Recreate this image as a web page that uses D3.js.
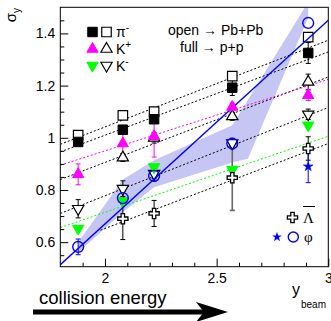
<!DOCTYPE html>
<html lang="en">
<head>
    <meta charset="UTF-8">
    <title>sigma_y vs y_beam</title>
    <script src="https://d3js.org/d3.v7.min.js"></script>
    <style>
        body {margin: 0; background: white;}
        text {font-family: "Liberation Sans", Arial, sans-serif;}
    </style>
</head>
<body>
<script>
    const width = 331;
    const height = 321;

    // beam rapidity of the five energies
    const yBeam = [1.88, 2.08, 2.22, 2.57, 2.91];

    // open = Pb+Pb, full = p+p
    const piPbPb     = [1.010, 1.086, 1.100, 1.236, 1.386];
    const piPP       = [0.984, 1.031, 1.071, 1.192, 1.325];
    const piPPErr    = [0.015, 0.015, 0.015, 0.030, 0.040];
    const kpPbPb     = [null, 0.924, 1.000, 1.082, 1.214];
    const kpPbPbErr  = [0, 0.015, 0.020, 0.015, 0.030];
    const kpPP       = [0.860, 0.978, 1.006, 1.118, 1.163];
    const kpPPErr    = [0.040, 0.060, 0.080, 0.015, 0.020];
    const kmPbPb     = [0.728, 0.805, 0.863, 0.980, 1.090];
    const kmPbPbErr  = [0.035, 0.030, 0.020, 0.015, 0.020];
    const kmPP       = [0.652, 0.758, 0.888, 0.878, 1.048];
    const lamPbPb    = [null, 0.690, 0.710, 0.847, 0.959];
    const lamPbPbErr = [0, 0.080, 0.050, 0.125, 0.045];
    const phiPbPb    = [0.582, 0.769, 0.854, 0.978, 1.440];
    const phiPbPbErr = [0.030, 0.025, 0.020, 0.020, 0];
    const phiPP      = [null, null, null, null, 0.890];
    const phiPPErr   = [0, 0, 0, 0, 0.062];

    // straight-line fits: [x0, y0, x1, y1]
    const fitPiPbPb  = [1.80, 0.975, 3.00, 1.374];
    const fitPiPP    = [1.80, 0.946, 3.00, 1.329];
    const fitKpPbPb  = [1.80, 0.840, 3.00, 1.233];
    const fitKpPP    = [1.80, 0.895, 3.00, 1.224];
    const fitKmPbPb  = [1.80, 0.710, 3.00, 1.116];
    const fitKmPP    = [1.80, 0.656, 3.00, 1.006];
    const fitLamPbPb = [1.98, 0.646, 3.00, 0.978];
    const fitPhi     = [1.80, 0.514, 3.00, 1.450];

    // shaded phi band
    const bandUpper = [[1.88, 0.600], [2.08, 0.840], [2.22, 0.914], [2.57, 1.048], [2.91, 1.520]];
    const bandLower = [[1.88, 0.560], [2.08, 0.715], [2.22, 0.810], [2.57, 0.905], [2.64, 0.920], [2.91, 1.460]];

    const xTicks = [2, 2.5, 3];
    const yTicks = [0.6, 0.8, 1, 1.2, 1.4];

    const svg = d3.select("body").append("svg")
            .attr("width", width).attr("height", height);

    const x = d3.scaleLinear().domain([1.8, 3.0]).range([60.3, 328.3]);
    const y = d3.scaleLinear().domain([0.506, 1.5]).range([266.7, 7.3]);

    svg.append("defs").append("clipPath").attr("id", "plotClip")
            .append("rect")
            .attr("x", x.range()[0]).attr("y", y.range()[1])
            .attr("width", x.range()[1] - x.range()[0])
            .attr("height", y.range()[0] - y.range()[1]);

    const plot = svg.append("g").attr("clip-path", "url(#plotClip)");

    // band
    const bandPoly = bandUpper.concat(bandLower.slice().reverse());
    plot.append("path")
            .datum(bandPoly)
            .attr("d", d3.line().x(d => x(d[0])).y(d => y(d[1])))
            .style("fill", "#c6c6f4")
            .style("stroke", "none");

    // dotted fits
    const fits = [
        [fitPiPbPb, "black"], [fitPiPP, "black"], [fitKpPbPb, "black"], [fitKpPP, "#ff00ff"],
        [fitKmPbPb, "black"], [fitKmPP, "#00ff00"], [fitLamPbPb, "black"]
    ];
    plot.selectAll("line.fit")
            .data(fits)
            .enter().append("line")
            .attr("class", "fit")
            .attr("x1", d => x(d[0][0])).attr("y1", d => y(d[0][1]))
            .attr("x2", d => x(d[0][2])).attr("y2", d => y(d[0][3]))
            .style("stroke", d => d[1])
            .style("stroke-width", 1)
            .style("stroke-dasharray", "2,2");

    function errorBars(vals, errs, color, w) {
        const pts = yBeam.map((b, i) => ({b: b, v: vals[i], e: errs[i]}))
                .filter(d => d.v !== null && d.e > 0);
        const g = plot.append("g").style("stroke", color).style("stroke-width", w || 1);
        g.selectAll("line.v").data(pts).enter().append("line")
                .attr("x1", d => x(d.b)).attr("x2", d => x(d.b))
                .attr("y1", d => y(d.v - d.e)).attr("y2", d => y(d.v + d.e));
        [-1, 1].forEach(s => {
            g.selectAll("line.c" + s).data(pts).enter().append("line")
                    .attr("x1", d => x(d.b) - 2.5).attr("x2", d => x(d.b) + 2.5)
                    .attr("y1", d => y(d.v + s * d.e)).attr("y2", d => y(d.v + s * d.e));
        });
    }

    function markers(vals, type, size, fill, stroke, sw, rot) {
        const pts = yBeam.map((b, i) => ({b: b, v: vals[i]})).filter(d => d.v !== null);
        plot.append("g").selectAll("path").data(pts).enter().append("path")
                .attr("d", d3.symbol().type(type).size(size))
                .attr("transform", d => "translate(" + x(d.b) + "," + y(d.v) + ") rotate(" + (rot || 0) + ")")
                .style("fill", fill)
                .style("stroke", stroke)
                .style("stroke-width", sw);
    }

    errorBars(lamPbPb, lamPbPbErr.map((e, i) => i === 3 ? 0 : e), "black");
    errorBars(lamPbPb, lamPbPbErr.map((e, i) => i === 3 ? e : 0), "#6a6a6a", 1.6);
    errorBars(kmPbPb, kmPbPbErr, "black");
    errorBars(kpPbPb, kpPbPbErr, "black");
    errorBars(piPP, piPPErr, "black");
    errorBars(kpPP, kpPPErr, "#ff00ff");
    errorBars(phiPbPb, phiPbPbErr, "#0000ff");
    errorBars(phiPP, phiPPErr, "#0000ff");

    markers(piPbPb, d3.symbolSquare, 90, "white", "black", 1.2);
    markers(piPP, d3.symbolSquare, 90, "black", "black", 1);
    markers(kpPbPb, d3.symbolTriangle, 55, "white", "black", 1.2);
    markers(kmPbPb, d3.symbolTriangle, 55, "white", "black", 1.2, 180);
    markers(kmPP, d3.symbolTriangle, 55, "#00ff00", "#00ff00", 1, 180);
    markers(lamPbPb, d3.symbolCross, 58, "white", "black", 1.3);
    markers(phiPbPb, d3.symbolCircle, 92, "none", "#0000ff", 1.4);
    markers(phiPP, d3.symbolStar, 30, "#0000ff", "#0000ff", 0.5);

    // phi fit line
    plot.append("line")
            .attr("x1", x(fitPhi[0])).attr("y1", y(fitPhi[1]))
            .attr("x2", x(fitPhi[2])).attr("y2", y(fitPhi[3]))
            .style("stroke", "#0000ff")
            .style("stroke-width", 1.4);

    markers(kpPP, d3.symbolTriangle, 55, "#ff00ff", "#ff00ff", 1);

    // frame
    svg.append("rect")
            .attr("x", x.range()[0]).attr("y", y.range()[1])
            .attr("width", x.range()[1] - x.range()[0])
            .attr("height", y.range()[0] - y.range()[1])
            .style("fill", "none")
            .style("stroke", "black")
            .style("stroke-width", 1);

    // axes, ticks pointing inwards
    const yAxis = d3.axisLeft(y).tickValues(yTicks).tickSize(-8).tickPadding(5)
            .tickFormat(d3.format("~g"));
    const yMinor = d3.axisLeft(y).tickValues(d3.range(0.55, 1.5, 0.05).filter(v => Math.abs(v * 5 - Math.round(v * 5)) > 1e-6))
            .tickSize(-4).tickFormat("");
    const xAxis = d3.axisBottom(x).tickValues(xTicks).tickSize(-8).tickPadding(6)
            .tickFormat(d3.format("~g"));
    const xMinor = d3.axisBottom(x).tickValues(d3.range(1.9, 3.0, 0.1).filter(v => Math.abs(v * 2 - Math.round(v * 2)) > 1e-6))
            .tickSize(-4).tickFormat("");

    [yAxis, yMinor].forEach(a => svg.append("g")
            .attr("transform", "translate(" + x.range()[0] + ",0)").call(a));
    [xAxis, xMinor].forEach(a => svg.append("g")
            .attr("transform", "translate(0," + y.range()[0] + ")").call(a));

    svg.selectAll(".domain").remove();
    svg.selectAll(".tick line").style("stroke", "black");
    svg.selectAll(".tick text")
            .style("font-family", "Liberation Sans, Arial, sans-serif")
            .style("font-size", "14px")
            .style("fill", "black");

    // axis titles
    const yTitle = svg.append("text")
            .attr("transform", "translate(15.5,8) rotate(-90)")
            .attr("text-anchor", "end")
            .style("font-size", "15px");
    yTitle.append("tspan").text("σ");
    yTitle.append("tspan").attr("dy", 4).style("font-size", "10px").text("y");

    svg.append("text").attr("x", 292).attr("y", 295).style("font-size", "16px").text("y");
    svg.append("text").attr("x", 301).attr("y", 308).style("font-size", "10px").text("beam");

    svg.append("text").attr("x", 39).attr("y", 304).style("font-size", "18.5px").text("collision energy");

    // arrow
    svg.append("line")
            .attr("x1", 33).attr("x2", 206).attr("y1", 312).attr("y2", 312)
            .style("stroke", "black").style("stroke-width", 5);
    svg.append("path")
            .attr("d", "M228,312 L196,302 L204,312 L196,322 Z")
            .style("fill", "black");

    // legend, particle rows
    const legRows = [
        {full: d3.symbolSquare, fs: 90, color: "black", rot: 0, name: "π", sup: "-", yy: 32},
        {full: d3.symbolTriangle, fs: 55, color: "#ff00ff", rot: 0, name: "K", sup: "+", yy: 49},
        {full: d3.symbolTriangle, fs: 55, color: "#00ff00", rot: 180, name: "K", sup: "-", yy: 65.5}
    ];
    legRows.forEach(r => {
        svg.append("path")
                .attr("d", d3.symbol().type(r.full).size(r.fs))
                .attr("transform", "translate(92.5," + r.yy + ") rotate(" + r.rot + ")")
                .style("fill", r.color).style("stroke", r.color);
        svg.append("path")
                .attr("d", d3.symbol().type(r.full).size(r.fs))
                .attr("transform", "translate(106.5," + r.yy + ") rotate(" + r.rot + ")")
                .style("fill", "none").style("stroke", "black").style("stroke-width", 1.2);
        const t = svg.append("text").attr("x", 116).attr("y", r.yy + 5).style("font-size", "14px");
        t.append("tspan").text(r.name);
        t.append("tspan").attr("dy", -6).style("font-size", "10px").text(r.sup);
    });

    svg.append("text").attr("x", 168).attr("y", 34.5).style("font-size", "14px").text("open → Pb+Pb");
    svg.append("text").attr("x", 180).attr("y", 52).style("font-size", "14px").text("full → p+p");

    // legend, lambda-bar and phi
    svg.append("path")
            .attr("d", d3.symbol().type(d3.symbolCross).size(58))
            .attr("transform", "translate(292.5,217.5)")
            .style("fill", "white").style("stroke", "black").style("stroke-width", 1.3);
    svg.append("text").attr("x", 303).attr("y", 222.5)
            .style("font-family", "Liberation Serif, serif").style("font-size", "15px")
            .text("Λ");
    svg.append("line").attr("x1", 303).attr("x2", 315).attr("y1", 206.5).attr("y2", 206.5)
            .style("stroke", "black").style("stroke-width", 1);
    svg.append("path")
            .attr("d", d3.symbol().type(d3.symbolStar).size(30))
            .attr("transform", "translate(277,237)")
            .style("fill", "#0000ff");
    svg.append("path")
            .attr("d", d3.symbol().type(d3.symbolCircle).size(80))
            .attr("transform", "translate(293.3,237)")
            .style("fill", "none").style("stroke", "#0000ff").style("stroke-width", 1.4);
    svg.append("text").attr("x", 304).attr("y", 241.5)
            .style("font-family", "Liberation Serif, serif").style("font-size", "15px").text("φ");
</script>
</body>
</html>
